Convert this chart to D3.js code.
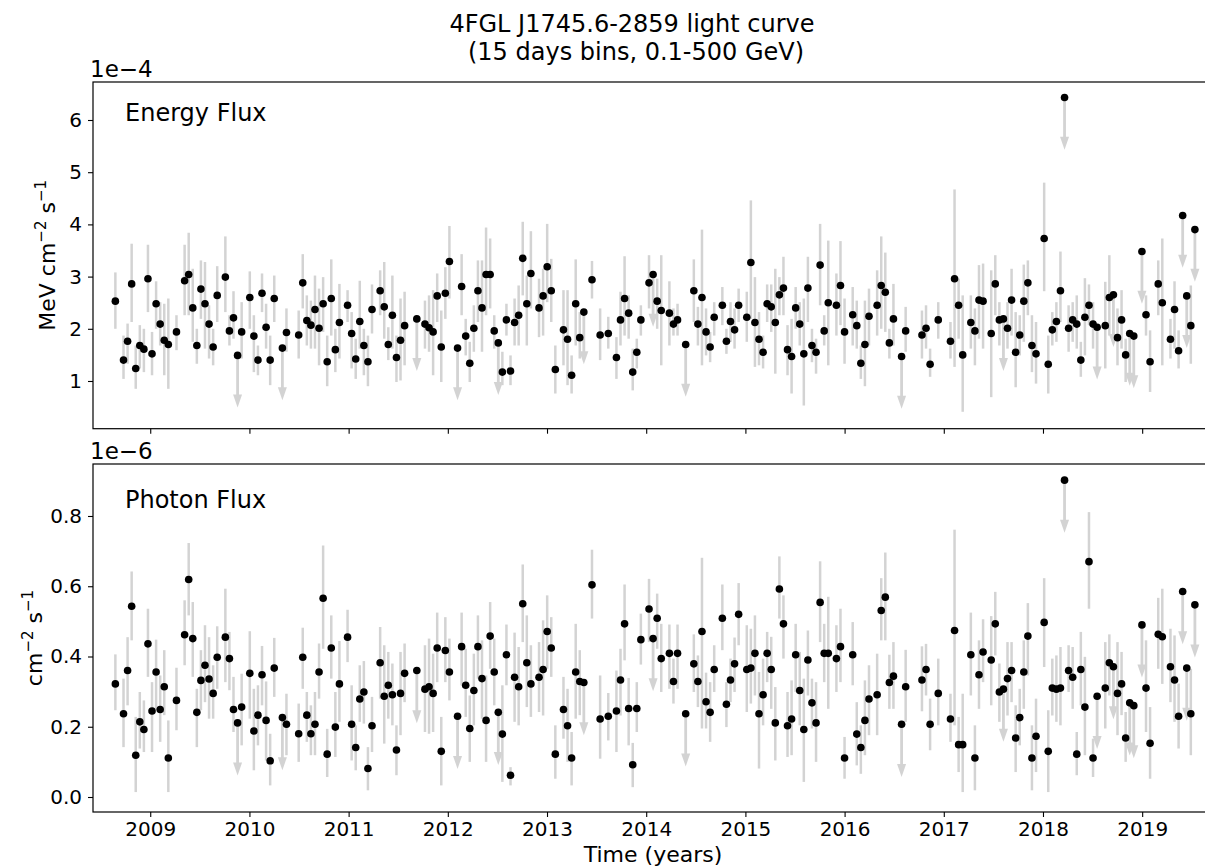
<!DOCTYPE html>
<html>
<head>
<meta charset="utf-8">
<script src="https://cdn.jsdelivr.net/npm/d3@7"></script>
<style>
  body { margin: 0; background: #fff; }
  text { font-family: "DejaVu Sans", sans-serif; fill: #000; }
</style>
</head>
<body>
<svg id="chart" width="1205" height="867"></svg>
<script>
// 15 day bins, first bin centre in decimal years
var BIN_DAYS = 15;
var T0 = 2008.6485;

// bin number of every point (gaps = empty bins)
var binIndex = [0,2,3,4,5,6,7,8,9,10,
  11,12,13,15,17,18,19,20,21,22,
  23,24,25,27,28,29,30,31,33,34,
  35,36,37,38,39,41,42,45,46,47,
  48,49,50,51,52,53,54,55,57,58,
  59,60,61,62,63,65,66,67,68,69,
  70,71,74,76,77,78,79,80,81,82,
  84,85,86,87,88,89,90,91,92,93,
  94,95,96,97,98,99,100,101,102,104,
  105,106,107,108,110,111,112,113,114,115,
  117,119,121,123,124,125,126,127,128,129,
  131,132,133,134,136,137,138,140,142,143,
  144,145,146,147,149,150,151,152,153,155,
  156,157,158,159,160,161,162,163,164,165,
  166,167,168,169,170,171,172,173,174,175,
  177,178,179,181,182,183,184,185,187,188,
  189,190,191,193,194,198,199,200,202,205,
  206,207,208,210,211,212,213,215,216,217,
  218,219,220,221,222,223,224,225,226,228,
  229,230,231,232,233,234,235,236,237,238,
  239,240,241,243,244,245,246,247,248,249,
  250,252,253,254,256,257,259,260,261,262,
  263,264,265];

// energy flux, units of 1e-4 MeV cm-2 s-1
var eFlux = [2.53,1.40,1.76,2.86,1.24,1.68,1.61,2.96,1.52,2.48,
  2.09,1.78,1.70,1.94,2.92,3.04,2.40,1.68,2.76,2.48,
  2.09,1.65,2.64,2.99,1.96,2.21,1.49,1.94,2.60,1.86,
  1.40,2.68,2.03,1.40,2.58,1.63,1.93,1.88,2.88,2.16,
  2.07,2.37,2.01,2.48,1.37,2.58,1.60,2.12,2.45,1.91,
  1.42,2.14,1.68,1.37,2.37,2.73,2.42,1.70,2.26,1.45,
  1.78,2.06,2.19,2.09,2.02,1.94,2.63,1.65,2.68,3.29,
  1.63,2.81,1.86,1.34,2.01,2.73,2.40,3.04,3.04,1.96,
  1.73,1.17,2.17,1.19,2.12,2.26,3.35,2.48,3.06,2.40,
  2.63,3.19,2.73,1.22,1.98,1.80,1.11,2.48,1.83,2.32,
  2.94,1.88,1.91,1.45,2.17,2.58,2.30,1.17,1.55,2.17,
  2.88,3.04,2.53,2.35,2.30,2.09,2.17,1.70,2.73,2.09,
  2.60,1.94,1.65,2.22,2.45,1.76,2.14,1.98,2.45,2.22,
  3.27,2.12,1.80,1.55,2.48,2.42,2.12,2.65,2.78,1.60,
  1.47,2.40,2.09,1.52,2.78,1.68,1.55,3.22,1.96,2.50,
  2.45,2.83,1.94,2.27,2.06,1.34,1.70,2.24,2.45,2.83,
  2.70,1.73,2.19,1.47,1.96,1.88,2.01,1.32,2.17,1.76,
  2.96,2.45,1.50,2.12,1.96,2.55,2.53,1.91,2.86,2.17,
  2.19,2.01,2.55,1.55,1.88,2.53,2.88,1.68,1.52,3.73,
  1.32,1.98,2.14,2.73,6.43,2.01,2.17,2.09,1.40,2.22,
  2.45,2.09,2.03,2.06,2.60,2.65,1.83,2.17,1.50,1.91,
  1.86,3.48,2.27,1.37,2.86,2.50,1.80,2.37,1.58,4.17,
  2.63,2.06,3.90];
var eFluxHi = [3.08,1.87,2.10,3.63,1.68,2.07,2.00,3.61,1.94,2.91,
  2.51,2.48,2.58,2.26,3.61,3.84,3.15,2.00,3.31,3.28,
  2.45,2.00,3.20,3.77,2.26,2.72,null,2.51,3.10,2.26,
  1.68,3.06,2.48,1.87,3.02,null,2.39,2.35,3.43,2.64,
  2.54,3.02,2.77,2.99,1.87,3.33,2.00,2.86,2.74,2.32,
  1.81,2.92,2.00,1.87,2.85,3.12,3.28,2.03,3.02,1.87,
  2.58,2.71,null,2.54,2.64,2.74,3.06,2.35,3.18,3.97,
  null,3.43,2.19,1.75,2.45,3.31,3.31,3.94,3.73,2.26,
  null,1.56,2.48,1.49,2.58,2.83,4.05,3.02,3.87,2.96,
  3.15,4.01,3.34,1.68,2.74,2.74,1.49,3.33,2.32,null,
  3.30,2.39,2.23,1.84,2.71,3.39,2.64,1.62,1.81,2.45,
  3.41,null,2.96,3.41,2.91,2.39,2.48,null,3.33,2.42,
  3.90,2.39,1.94,2.51,2.80,2.00,2.51,2.39,2.77,2.71,
  4.46,2.99,2.32,1.87,2.85,2.85,3.15,2.99,3.38,2.07,
  2.19,2.80,2.51,2.58,3.38,2.00,1.81,4.01,2.26,3.69,
  3.06,3.68,2.58,2.80,2.54,1.68,2.54,2.77,3.12,3.77,
  3.46,2.00,2.86,null,2.42,2.35,2.45,1.62,2.51,2.13,
  4.67,2.96,2.64,2.64,2.39,3.22,3.25,3.12,3.41,2.51,
  null,2.51,3.15,2.32,2.26,3.23,3.31,2.26,2.13,4.80,
  1.87,2.32,2.51,3.48,null,2.45,2.51,2.64,1.75,2.97,
  2.85,2.51,null,2.90,3.41,null,2.39,2.74,1.81,null,
  null,null,2.64,1.97,3.31,3.73,2.19,2.91,1.97,null,
  null,2.83,null];
var eFluxLo = [2.00,1.04,1.33,2.13,0.85,1.24,1.17,2.32,1.11,2.00,
  1.68,1.11,0.85,1.59,2.26,2.26,1.75,1.33,2.19,1.62,
  1.43,1.30,2.13,2.32,1.68,1.81,null,1.43,2.00,1.17,
  1.11,2.32,1.62,0.92,2.13,null,1.56,1.43,2.39,1.68,
  1.62,1.62,1.30,1.94,0.90,1.87,1.17,1.43,2.13,1.24,
  1.04,1.62,1.11,0.90,1.91,2.26,1.81,1.40,1.62,0.98,
  1.01,1.30,null,1.62,1.56,1.11,2.13,0.98,2.19,2.58,
  null,2.26,1.49,0.98,1.56,2.13,1.56,2.26,2.39,1.62,
  null,0.92,1.87,0.92,1.68,1.68,2.64,1.68,2.39,1.84,
  1.87,2.51,2.13,0.76,1.30,0.92,0.76,1.68,1.43,null,
  2.58,1.40,1.62,1.04,1.68,1.87,1.81,0.82,1.24,1.87,
  2.39,null,2.00,1.30,1.68,1.87,1.87,null,2.13,1.68,
  1.30,1.49,1.36,1.87,2.07,1.52,1.75,1.62,2.13,1.75,
  2.19,1.27,1.30,1.24,2.13,1.94,1.14,2.26,2.26,1.11,
  0.76,2.00,1.68,0.53,2.13,1.36,1.14,2.45,1.68,1.30,
  1.87,2.07,1.33,1.68,1.62,1.04,0.90,1.68,1.87,2.00,
  1.94,1.43,1.68,null,1.56,1.43,1.62,1.08,1.81,1.43,
  1.27,1.81,0.41,1.62,1.30,1.81,1.62,0.69,2.26,1.68,
  null,1.62,1.87,0.88,1.49,1.75,2.26,1.17,0.95,2.72,
  0.76,1.68,1.75,2.13,null,1.56,1.75,1.62,1.08,1.49,
  2.07,1.62,null,1.24,1.87,null,1.30,1.62,0.98,null,
  null,null,1.87,0.79,2.26,1.30,1.43,1.62,1.24,null,
  null,1.33,null];
// bins given as upper limits
var eUpperBins = [30,41,74,84,94,115,132,140,193,218,233,241,245,249,250,252,262,263,265];

// photon flux, units of 1e-6 cm-2 s-1
var pFlux = [0.322,0.237,0.360,0.543,0.119,0.214,0.192,0.436,0.245,0.356,
  0.249,0.314,0.111,0.275,0.462,0.619,0.451,0.241,0.332,0.375,
  0.336,0.295,0.398,0.455,0.394,0.249,0.211,0.256,0.352,0.188,
  0.233,0.348,0.218,0.103,0.367,0.226,0.207,0.180,0.398,0.233,
  0.180,0.207,0.356,0.566,0.122,0.424,0.199,0.322,0.455,0.207,
  0.141,0.279,0.299,0.081,0.203,0.382,0.287,0.318,0.291,0.134,
  0.295,0.352,0.360,0.307,0.314,0.295,0.424,0.130,0.417,0.356,
  0.230,0.428,0.318,0.195,0.303,0.428,0.337,0.218,0.458,0.356,
  0.241,0.179,0.405,0.062,0.341,0.314,0.550,0.382,0.322,0.341,
  0.363,0.471,0.424,0.122,0.249,0.203,0.111,0.356,0.329,0.326,
  0.604,0.222,0.230,0.245,0.333,0.493,0.252,0.092,0.252,0.448,
  0.535,0.451,0.509,0.394,0.409,0.329,0.409,0.237,0.379,0.329,
  0.471,0.271,0.241,0.363,0.509,0.264,0.333,0.379,0.520,0.363,
  0.367,0.409,0.237,0.291,0.409,0.363,0.211,0.592,0.493,0.203,
  0.222,0.405,0.303,0.192,0.390,0.268,0.211,0.554,0.409,0.409,
  0.394,0.428,0.111,0.405,0.179,0.141,0.218,0.279,0.291,0.531,
  0.569,0.326,0.344,0.207,0.314,0.333,0.363,0.207,0.295,0.222,
  0.474,0.149,0.149,0.405,0.111,0.348,0.413,0.390,0.493,0.299,
  0.307,0.337,0.360,0.168,0.226,0.356,0.458,0.111,0.173,0.497,
  0.130,0.310,0.307,0.310,0.902,0.360,0.341,0.122,0.363,0.256,
  0.670,0.111,0.287,0.310,0.382,0.371,0.295,0.322,0.168,0.268,
  0.260,0.490,0.310,0.153,0.463,0.456,0.371,0.333,0.230,0.585,
  0.367,0.237,0.547];
var pFluxHi = [0.406,0.337,0.455,0.642,0.228,0.299,0.275,0.536,0.327,0.448,
  0.346,0.418,0.218,0.368,0.560,0.723,0.555,0.308,0.418,0.489,
  0.455,0.375,0.486,0.593,0.470,0.342,null,0.351,0.472,0.308,
  0.318,0.430,0.329,0.180,0.453,null,0.294,0.266,0.482,0.299,
  0.261,0.299,0.437,0.716,0.194,0.517,0.299,0.444,0.533,0.318,
  0.204,0.375,0.387,0.142,0.285,0.484,0.432,0.413,0.380,0.204,
  0.413,0.437,null,0.432,0.451,0.408,0.525,0.228,0.512,0.451,
  null,0.525,0.422,0.289,0.408,0.517,0.446,0.346,0.555,0.451,
  null,0.318,0.491,0.085,0.468,0.427,0.662,0.517,0.432,0.441,
  0.503,0.574,0.512,0.204,0.342,0.308,0.185,0.493,0.418,null,
  0.704,0.346,0.296,0.360,0.422,0.605,0.339,0.154,0.327,0.522,
  0.621,null,0.579,0.493,0.491,0.394,0.491,null,0.463,0.403,
  0.681,0.354,0.327,0.432,0.605,0.327,0.394,0.454,0.609,0.489,
  0.479,0.517,0.356,0.394,0.470,0.456,0.313,0.685,0.574,0.299,
  0.332,0.493,0.413,0.337,0.474,0.337,0.327,0.671,0.493,0.570,
  0.489,0.536,0.171,0.498,0.270,0.204,0.332,0.375,0.408,0.623,
  0.696,0.405,0.441,null,0.419,0.429,0.436,0.280,0.394,0.294,
  0.761,0.228,0.294,0.525,0.204,0.446,0.506,0.515,0.584,0.380,
  null,0.441,0.441,0.261,0.308,0.446,0.552,0.204,0.280,0.623,
  0.247,0.394,0.403,0.427,null,0.432,0.427,0.185,0.470,0.399,
  0.811,0.166,null,0.441,0.463,null,0.441,0.413,0.242,null,
  null,null,0.446,0.256,0.567,0.593,0.479,0.460,0.323,null,
  null,0.365,null];
var pFluxLo = [0.247,0.142,0.261,0.446,0.014,0.138,0.128,0.342,0.128,0.251,
  0.157,0.233,0.014,0.190,0.375,0.517,0.342,0.142,0.247,0.270,
  0.223,0.223,0.308,0.327,0.304,0.185,null,0.147,0.223,0.076,
  0.147,0.261,0.104,0.033,0.285,null,0.119,0.100,0.308,0.157,
  0.119,0.119,0.280,0.422,0.057,0.337,0.114,0.214,0.384,0.104,
  0.076,0.214,0.209,0.019,0.128,0.280,0.152,0.223,0.204,0.062,
  0.176,0.270,null,0.185,0.180,0.185,0.327,0.033,0.327,0.275,
  null,0.318,0.228,0.100,0.204,0.337,0.223,0.100,0.365,0.261,
  null,0.043,0.318,0.033,0.214,0.204,0.441,0.256,0.228,0.242,
  0.232,0.365,0.342,0.052,0.166,0.100,0.033,0.223,0.233,null,
  0.508,0.109,0.161,0.128,0.232,0.389,0.147,0.028,0.185,0.377,
  0.441,null,0.422,0.299,0.308,0.266,0.308,null,0.299,0.256,
  0.195,0.195,0.157,0.299,0.418,0.199,0.270,0.299,0.432,0.242,
  0.266,0.289,0.081,0.204,0.327,0.251,0.104,0.508,0.394,0.114,
  0.119,0.299,0.204,0.043,0.289,0.195,0.100,0.441,0.327,0.251,
  0.299,0.327,0.052,0.318,0.090,0.066,0.119,0.176,0.176,0.446,
  0.446,0.251,0.251,null,0.214,0.244,0.289,0.133,0.204,0.157,
  0.204,0.071,0.014,0.289,0.019,0.251,0.327,0.261,0.403,0.214,
  null,0.232,0.270,0.071,0.147,0.251,0.346,0.019,0.071,0.370,
  0.014,0.232,0.214,0.204,null,0.299,0.251,0.062,0.261,0.119,
  0.536,0.057,null,0.195,0.289,null,0.176,0.233,0.100,null,
  null,null,0.185,0.052,0.365,0.322,0.270,0.214,0.138,null,
  null,0.119,null];
var pUpperBins = [30,41,74,84,94,115,132,140,193,218,233,241,245,249,250,252,262,263,265];

var yearTicks = [2009,2010,2011,2012,2013,2014,2015,2016,2017,2018,2019];
var eTicks = [1,2,3,4,5,6];
var pTicks = [0.0,0.2,0.4,0.6,0.8];

var svg = d3.select("#chart");
var gray = "#d3d3d3";

var x = d3.scaleLinear().domain([2008.423, 2019.714]).range([93, 1213]);

function binTime(b) { return T0 + b * BIN_DAYS / 365.25; }

function drawPanel(p) {
  var y = d3.scaleLinear().domain(p.domain).range([p.bottom, p.top]);
  var g = svg.append("g");

  var rows = binIndex.map(function(b, i) {
    return {t: binTime(b), v: p.val[i], hi: p.hi[i], lo: p.lo[i], ul: p.ul.indexOf(b) >= 0};
  });

  // error bars
  g.selectAll("line.err").data(rows.filter(function(d) { return !d.ul; }))
    .enter().append("line")
    .attr("x1", function(d) { return x(d.t); })
    .attr("x2", function(d) { return x(d.t); })
    .attr("y1", function(d) { return y(d.lo); })
    .attr("y2", function(d) { return y(d.hi); })
    .attr("stroke", gray).attr("stroke-width", 2.5);

  // upper limit arrows
  var uls = rows.filter(function(d) { return d.ul; });
  g.selectAll("line.ul").data(uls).enter().append("line")
    .attr("x1", function(d) { return x(d.t); })
    .attr("x2", function(d) { return x(d.t); })
    .attr("y1", function(d) { return y(d.v); })
    .attr("y2", function(d) { return y(d.v - p.arrow) - 10; })
    .attr("stroke", gray).attr("stroke-width", 2.8);
  g.selectAll("path.ul").data(uls).enter().append("path")
    .attr("d", function(d) {
      var xx = x(d.t), tip = y(d.v - p.arrow);
      return "M" + (xx - 4.5) + "," + (tip - 13) + "L" + (xx + 4.5) + "," + (tip - 13) + "L" + xx + "," + tip + "Z";
    })
    .attr("fill", gray);

  // points
  g.selectAll("circle").data(rows).enter().append("circle")
    .attr("cx", function(d) { return x(d.t); })
    .attr("cy", function(d) { return y(d.v); })
    .attr("r", 3.8)
    .attr("fill", "#000");

  // frame (right side runs off the picture)
  svg.append("rect")
    .attr("x", 93).attr("y", p.top)
    .attr("width", 1125).attr("height", p.bottom - p.top)
    .attr("fill", "none").attr("stroke", "#000").attr("stroke-width", 1.2);

  var yAxis = svg.append("g")
    .attr("transform", "translate(93,0)")
    .call(d3.axisLeft(y).tickValues(p.ticks).tickFormat(p.fmt).tickSize(5).tickPadding(6));
  var xAxis = svg.append("g")
    .attr("transform", "translate(0," + p.bottom + ")")
    .call(d3.axisBottom(x).tickValues(yearTicks).tickFormat(p.xlabels ? d3.format("d") : "").tickSize(5).tickPadding(5));
  [yAxis, xAxis].forEach(function(a) {
    a.select(".domain").remove();
    a.selectAll("line").attr("stroke", "#000").attr("stroke-width", 1.1);
    a.selectAll("text").attr("font-size", 20).attr("font-family", "DejaVu Sans, sans-serif");
  });

  svg.append("text").attr("x", 125).attr("y", p.top + p.labelDy)
    .attr("font-size", 24).text(p.label);
  svg.append("text").attr("x", 90).attr("y", p.top - 5)
    .attr("font-size", 23).text(p.offset);

  // rotated y label with superscripts
  var yl = svg.append("text")
    .attr("transform", "translate(" + p.ylabelX + "," + ((p.top + p.bottom) / 2) + ") rotate(-90)")
    .attr("text-anchor", "middle").attr("font-size", 22);
  p.ylabel.forEach(function(part) {
    var sup = part[1];
    yl.append("tspan")
      .attr("font-size", sup ? 15 : 22)
      .attr("dy", sup ? -9 : (part[2] ? 9 : 0))
      .text(part[0]);
  });
}

drawPanel({
  top: 82, bottom: 428.7, domain: [0.086, 6.728],
  val: eFlux, hi: eFluxHi, lo: eFluxLo, ul: eUpperBins, arrow: 1.0,
  ticks: eTicks, fmt: d3.format("d"), xlabels: false,
  label: "Energy Flux", labelDy: 39, offset: "1e\u22124",
  ylabelX: 55,
  ylabel: [["MeV cm", false], ["\u22122", true], [" s", false, true], ["\u22121", true]]
});

drawPanel({
  top: 464, bottom: 812, domain: [-0.0427, 0.948],
  val: pFlux, hi: pFluxHi, lo: pFluxLo, ul: pUpperBins, arrow: 0.15,
  ticks: pTicks, fmt: d3.format(".1f"), xlabels: true,
  label: "Photon Flux", labelDy: 44, offset: "1e\u22126",
  ylabelX: 42,
  ylabel: [["cm", false], ["\u22122", true], [" s", false, true], ["\u22121", true]]
});

// titles
svg.append("text").attr("x", 632).attr("y", 32).attr("text-anchor", "middle")
  .attr("font-size", 24).text("4FGL J1745.6-2859 light curve");
svg.append("text").attr("x", 636).attr("y", 60).attr("text-anchor", "middle")
  .attr("font-size", 24).text("(15 days bins, 0.1-500 GeV)");
svg.append("text").attr("x", 653).attr("y", 861.5).attr("text-anchor", "middle")
  .attr("font-size", 22).text("Time (years)");
</script>
</body>
</html>
